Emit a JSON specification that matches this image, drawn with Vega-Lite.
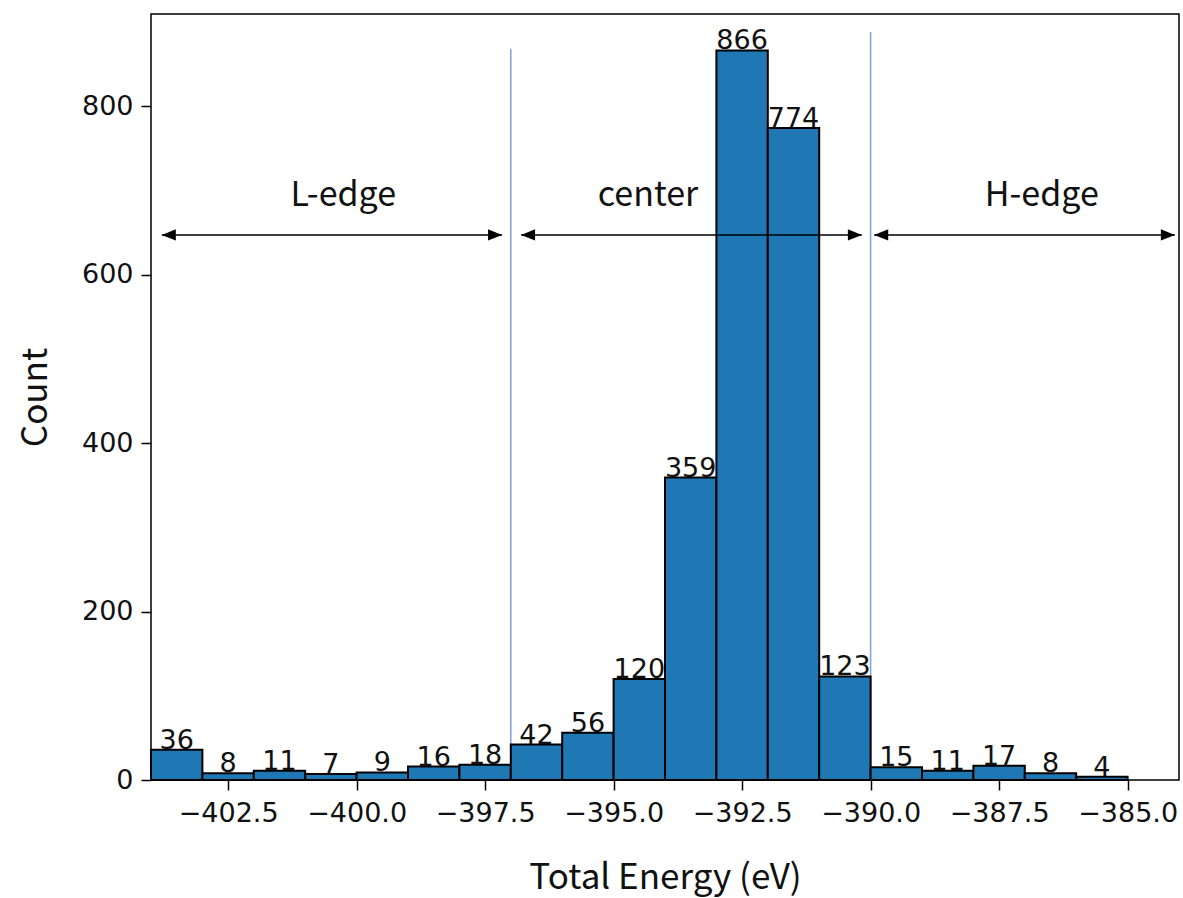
{
  "$schema": "https://vega.github.io/schema/vega-lite/v6.json",
  "width": 1028,
  "height": 766,
  "autosize": {"type": "none"},
  "padding": {"left": 151, "top": 14, "right": 4, "bottom": 118},
  "background": "white",
  "config": {
    "view": {"stroke": "black", "strokeWidth": 1.5},
    "axis": {
      "domain": false,
      "grid": false,
      "tickColor": "black",
      "tickSize": 10,
      "tickWidth": 1.5,
      "labelFont": "DejaVu Sans",
      "labelFontSize": 27,
      "labelColor": "#111111",
      "titleFont": "Noto Sans CJK JP",
      "titleFontSize": 35,
      "titleFontWeight": "normal",
      "titleColor": "#111111"
    }
  },
  "datasets": {
    "bins": [
      {"start": -404, "end": -403, "center": -403.5, "count": 36},
      {"start": -403, "end": -402, "center": -402.5, "count": 8},
      {"start": -402, "end": -401, "center": -401.5, "count": 11},
      {"start": -401, "end": -400, "center": -400.5, "count": 7},
      {"start": -400, "end": -399, "center": -399.5, "count": 9},
      {"start": -399, "end": -398, "center": -398.5, "count": 16},
      {"start": -398, "end": -397, "center": -397.5, "count": 18},
      {"start": -397, "end": -396, "center": -396.5, "count": 42},
      {"start": -396, "end": -395, "center": -395.5, "count": 56},
      {"start": -395, "end": -394, "center": -394.5, "count": 120},
      {"start": -394, "end": -393, "center": -393.5, "count": 359},
      {"start": -393, "end": -392, "center": -392.5, "count": 866},
      {"start": -392, "end": -391, "center": -391.5, "count": 774},
      {"start": -391, "end": -390, "center": -390.5, "count": 123},
      {"start": -390, "end": -389, "center": -389.5, "count": 15},
      {"start": -389, "end": -388, "center": -388.5, "count": 11},
      {"start": -388, "end": -387, "center": -387.5, "count": 17},
      {"start": -387, "end": -386, "center": -386.5, "count": 8},
      {"start": -386, "end": -385, "center": -385.5, "count": 4}
    ],
    "lines": [
      {"x": -397, "bottom": 0, "top": 868},
      {"x": -390, "bottom": 0, "top": 888}
    ],
    "arrows": [
      {"from": -403.79, "to": -397.17, "y": 647, "tx": -400.26, "ty": 693, "label": "L-edge"},
      {"from": -396.8, "to": -390.17, "y": 647, "tx": -394.33, "ty": 693, "label": "center"},
      {"from": -389.93, "to": -384.08, "y": 647, "tx": -386.67, "ty": 693, "label": "H-edge"}
    ]
  },
  "layer": [
    {
      "data": {"name": "lines"},
      "mark": {"type": "rule", "color": "#7f9fd8", "strokeWidth": 1.5},
      "encoding": {
        "x": {
          "field": "x", "type": "quantitative",
          "scale": {"domain": [-404, -384], "nice": false, "zero": false},
          "axis": {
            "title": "Total Energy (eV)",
            "values": [-402.5, -400, -397.5, -395, -392.5, -390, -387.5, -385],
            "format": ".1f",
            "labelPadding": 10,
            "titlePadding": 34
          }
        },
        "y": {
          "field": "bottom", "type": "quantitative",
          "scale": {"domain": [0, 909.3], "nice": false, "zero": true},
          "axis": {
            "title": "Count",
            "values": [0, 200, 400, 600, 800],
            "format": "d",
            "labelPadding": 8,
            "titlePadding": 28
          }
        },
        "y2": {"field": "top"}
      }
    },
    {
      "data": {"name": "bins"},
      "mark": {"type": "bar", "fill": "#1f77b4", "stroke": "black", "strokeWidth": 2},
      "encoding": {
        "x": {"field": "start", "type": "quantitative"},
        "x2": {"field": "end"},
        "y": {"field": "count", "type": "quantitative"},
        "y2": {"datum": 0}
      }
    },
    {
      "data": {"name": "bins"},
      "mark": {"type": "text", "font": "DejaVu Sans", "fontSize": 27, "color": "#111111", "align": "center", "baseline": "alphabetic", "dy": -1},
      "encoding": {
        "x": {"field": "center", "type": "quantitative"},
        "y": {"field": "count", "type": "quantitative"},
        "text": {"field": "count", "type": "quantitative"}
      }
    },
    {
      "data": {"name": "arrows"},
      "mark": {"type": "rule", "color": "black", "strokeWidth": 1.5},
      "encoding": {
        "x": {"field": "from", "type": "quantitative"},
        "x2": {"field": "to"},
        "y": {"field": "y", "type": "quantitative"}
      }
    },
    {
      "data": {"name": "arrows"},
      "mark": {"type": "point", "filled": true, "color": "black", "opacity": 1, "size": 196, "shape": "M0,0L2,-0.8L2,0.8Z"},
      "encoding": {
        "x": {"field": "from", "type": "quantitative"},
        "y": {"field": "y", "type": "quantitative"}
      }
    },
    {
      "data": {"name": "arrows"},
      "mark": {"type": "point", "filled": true, "color": "black", "opacity": 1, "size": 196, "shape": "M0,0L-2,-0.8L-2,0.8Z"},
      "encoding": {
        "x": {"field": "to", "type": "quantitative"},
        "y": {"field": "y", "type": "quantitative"}
      }
    },
    {
      "data": {"name": "arrows"},
      "mark": {"type": "text", "font": "Noto Sans CJK JP", "fontSize": 34, "color": "#111111", "align": "center", "baseline": "middle"},
      "encoding": {
        "x": {"field": "tx", "type": "quantitative"},
        "y": {"field": "ty", "type": "quantitative"},
        "text": {"field": "label", "type": "nominal"}
      }
    }
  ]
}
